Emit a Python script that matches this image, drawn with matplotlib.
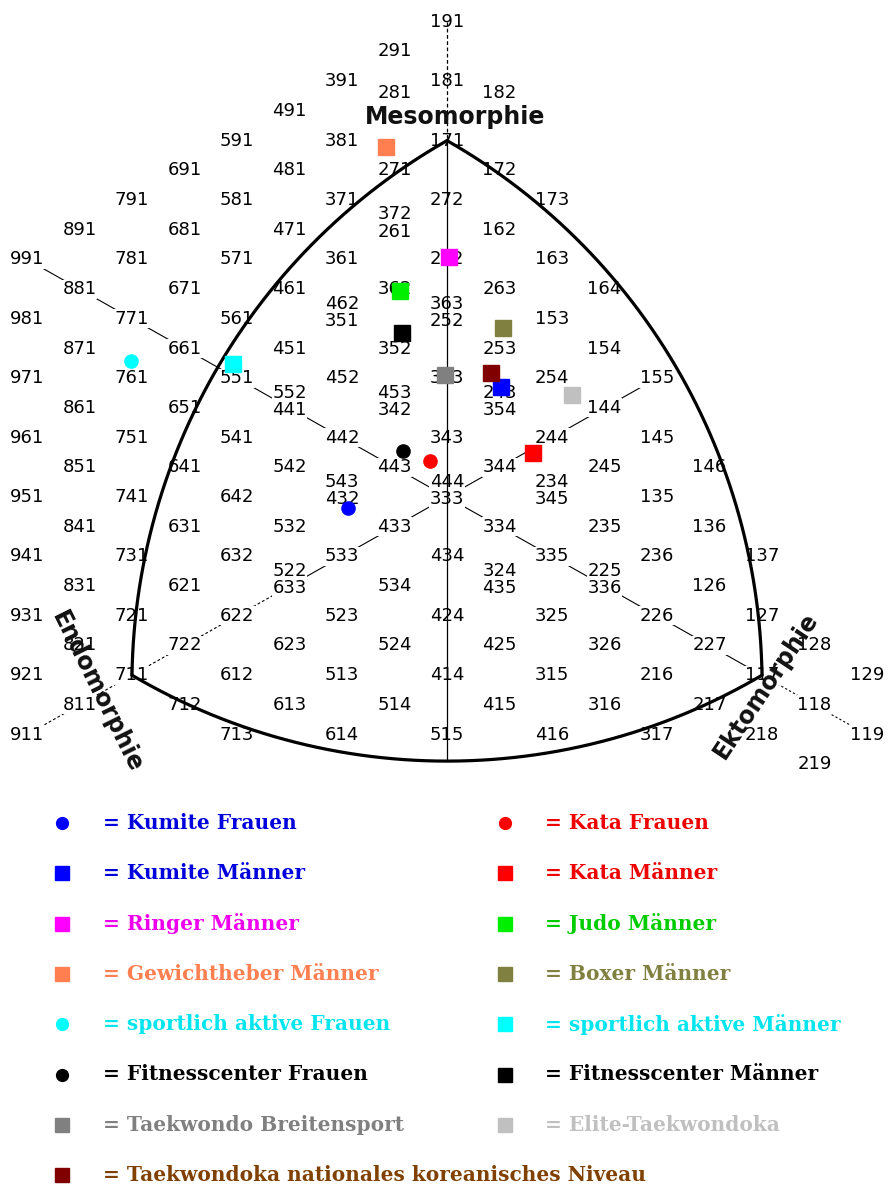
import numpy as np
import matplotlib
matplotlib.use("Agg")
import matplotlib.pyplot as plt

# ---------------------------------------------------------------
# Somatotype grid labels (endomorphy, mesomorphy, ectomorphy digits)
# ---------------------------------------------------------------
grid_labels = [
    "191",
    "291",
    "391", "181",
    "491", "281", "182",
    "591", "381", "171",
    "691", "481", "271", "172",
    "791", "581", "371", "272", "173",
    "891", "681", "471", "372", "261", "162",
    "991", "781", "571", "361", "262", "163",
    "881", "671", "461", "362", "263", "164",
    "981", "771", "561", "462", "351", "363", "252", "153",
    "871", "661", "451", "352", "253", "154",
    "971", "761", "551", "452", "353", "254", "155",
    "861", "651", "552", "441", "453", "342", "243", "354", "144",
    "961", "751", "541", "442", "343", "244", "145",
    "851", "641", "542", "443", "344", "245", "146",
    "951", "741", "642", "543", "432", "444", "333", "234", "345", "135",
    "841", "631", "532", "433", "334", "235", "136",
    "941", "731", "632", "533", "434", "335", "236", "137",
    "831", "621", "522", "633", "534", "324", "435", "225", "336", "126",
    "931", "721", "622", "523", "424", "325", "226", "127",
    "821", "722", "623", "524", "425", "326", "227", "128",
    "921", "711", "612", "513", "414", "315", "216", "117", "129",
    "811", "712", "613", "514", "415", "316", "217", "118",
    "911", "713", "614", "515", "416", "317", "218", "119",
    "219",
]

# ---------------------------------------------------------------
# Group means in somatochart coordinates (X = ecto - endo,
# Y = 2*meso - endo - ecto)
# ---------------------------------------------------------------
group_names = [
    "Kumite Frauen", "Kata Frauen",
    "Kumite Männer", "Kata Männer",
    "Ringer Männer", "Judo Männer",
    "Gewichtheber Männer", "Boxer Männer",
    "sportlich aktive Frauen", "sportlich aktive Männer",
    "Fitnesscenter Frauen", "Fitnesscenter Männer",
    "Taekwondo Breitensport", "Elite-Taekwondoka",
    "Taekwondoka nationales koreanisches Niveau",
]
group_x = [-1.89, -0.32, 1.03, 1.64, 0.04, -0.90, -1.16, 1.07,
           -6.02, -4.08, -0.84, -0.86, -0.04, 2.38, 0.84]
group_y = [-0.37, 1.21, 3.70, 1.48, 8.08, 6.94, 11.78, 5.69,
           4.58, 4.48, 1.55, 5.52, 4.11, 3.43, 4.18]
group_markers = ["o", "o", "s", "s", "s", "s", "s", "s",
                 "o", "s", "o", "s", "s", "s", "s"]
group_colors = ["#0000FF", "#FF0000", "#0000FF", "#FF0000", "#FF00FF",
                "#00EE00", "#FF7F50", "#808040", "#00FFFF", "#00FFFF",
                "#000000", "#000000", "#808080", "#C0C0C0", "#800000"]
group_text_colors = ["#0000DD", "#EE0000", "#0000DD", "#EE0000", "#EE00EE",
                     "#00CC00", "#FF7F50", "#808040", "#00E5EE", "#00E5EE",
                     "#000000", "#000000", "#808080", "#C0C0C0", "#804000"]


def soma_xy(code):
    endo, meso, ecto = (int(c) for c in code)
    return ecto - endo, 2 * meso - endo - ecto


# ---------------------------------------------------------------
# Figure and chart axes
# ---------------------------------------------------------------
W, H, DPI = 893, 1187, 100
fig = plt.figure(figsize=(W / DPI, H / DPI), dpi=DPI)
fig.patch.set_facecolor("white")

x0_px, sx = 447.0, 52.5      # pixel column of X = 0, pixels per unit
y0_px, sy = 497.0, 29.7      # pixel row of Y = 0, pixels per unit
ax = fig.add_axes([0, 0, 1, 1])
ax.set_xlim(-x0_px / sx, (W - x0_px) / sx)
ax.set_ylim((y0_px - H) / sy, y0_px / sy)
ax.axis("off")

# Outline: curved triangle, each side an arc centred on the opposite corner
v_top = np.array(soma_xy("171"), float)
v_left = np.array(soma_xy("711"), float)
v_right = np.array(soma_xy("117"), float)


def arc(p, q, c, n=300):
    T = ax.transData
    P, Q, C = T.transform(np.array([p, q, c]))
    a0 = np.arctan2(P[1] - C[1], P[0] - C[0])
    a1 = np.arctan2(Q[1] - C[1], Q[0] - C[0])
    d = (a1 - a0 + np.pi) % (2 * np.pi) - np.pi
    t = np.linspace(0, 1, n)
    ang = a0 + d * t
    r = np.hypot(*(P - C)) * (1 - t) + np.hypot(*(Q - C)) * t
    pts = C + np.column_stack([r * np.cos(ang), r * np.sin(ang)])
    return T.inverted().transform(pts)


left_arc = arc(v_left, v_top, v_right)
right_arc = arc(v_top, v_right, v_left)
bottom_arc = arc(v_left, v_right, v_top)
for seg in (left_arc, right_arc, bottom_arc):
    ax.plot(seg[:, 0], seg[:, 1], color="black", lw=2.3,
            solid_capstyle="round", zorder=6)

y_bottom = bottom_arc[:, 1].min()

# Axis lines through the centre
ax.plot([0, 0], [soma_xy("191")[1], v_top[1]], color="black", lw=0.9,
        ls=(0, (3, 2)), zorder=5)
ax.plot([0, 0], [v_top[1], y_bottom], color="black", lw=0.9, zorder=5)

x911, _ = soma_xy("911")
x155, _ = soma_xy("155")
ax.plot([x911, -3], [x911, -3], color="black", lw=0.8, ls=(0, (2.5, 2)), zorder=1)
ax.plot([-3, x155], [-3, x155], color="black", lw=0.8, zorder=1)

x991, _ = soma_xy("991")
x119, _ = soma_xy("119")
ax.plot([x991, 6], [-x991, -6], color="black", lw=0.8, zorder=1)
ax.plot([6, x119], [-6, -x119], color="black", lw=0.8, ls=(0, (2, 2)), zorder=1)

# Grid labels; labels sharing one position are stacked, the two beside
# the "Mesomorphie" caption are lifted clear of it
lifted = {"281": 13.0, "182": 13.0}
positions = [soma_xy(c) for c in grid_labels]
seen = {}
for code, pos in zip(grid_labels, positions):
    k = seen.get(pos, 0)
    seen[pos] = k + 1
    dy = lifted.get(code, 0.0)
    if positions.count(pos) > 1:
        dy = 11.0 if k == 0 else -1.5
    ax.annotate(code, xy=pos, xytext=(0, dy), textcoords="offset points",
                ha="center", va="center", fontsize=13, family="DejaVu Sans",
                color="black", zorder=3,
                bbox=dict(facecolor="white", edgecolor="none", pad=0.4))

# Component names
ax.text(0.15, 12.78, "Mesomorphie", ha="center", va="center", fontsize=17,
        fontweight="bold", family="DejaVu Sans", color="#111111", zorder=7)
ax.text(-6.67, -6.57, "Endomorphie", ha="center", va="center", fontsize=17,
        fontweight="bold", family="DejaVu Sans", rotation=-63.6,
        color="#111111", zorder=7)
ax.text(6.08, -6.36, "Ektomorphie", ha="center", va="center", fontsize=17,
        fontweight="bold", family="DejaVu Sans", rotation=56.4,
        color="#111111", zorder=7)

# Group means
for gx, gy, m, c in zip(group_x, group_y, group_markers, group_colors):
    ax.plot(gx, gy, marker=m, ls="none", color=c, mec=c,
            markersize=11.0 if m == "s" else 9.5, zorder=8)

# ---------------------------------------------------------------
# Key below the chart
# ---------------------------------------------------------------
lax = fig.add_axes([0, 0, 1, 1], facecolor="none")
lax.set_xlim(0, W)
lax.set_ylim(H, 0)
lax.axis("off")

row0, row_step = 823, 50.3
marker_x = (62, 505)
text_x = (103, 545)
for i, (name, m, c, tc) in enumerate(zip(group_names, group_markers,
                                          group_colors, group_text_colors)):
    row, col = divmod(i, 2)
    y = row0 + row * row_step
    lax.plot(marker_x[col], y, marker=m, ls="none", color=c, mec=c,
             markersize=10 if m == "s" else 8.5)
    lax.text(text_x[col], y, "= " + name, ha="left", va="center",
             fontsize=14.5, fontweight="bold", family="DejaVu Serif",
             color=tc)

fig.savefig("out.png", dpi=DPI, facecolor="white")
